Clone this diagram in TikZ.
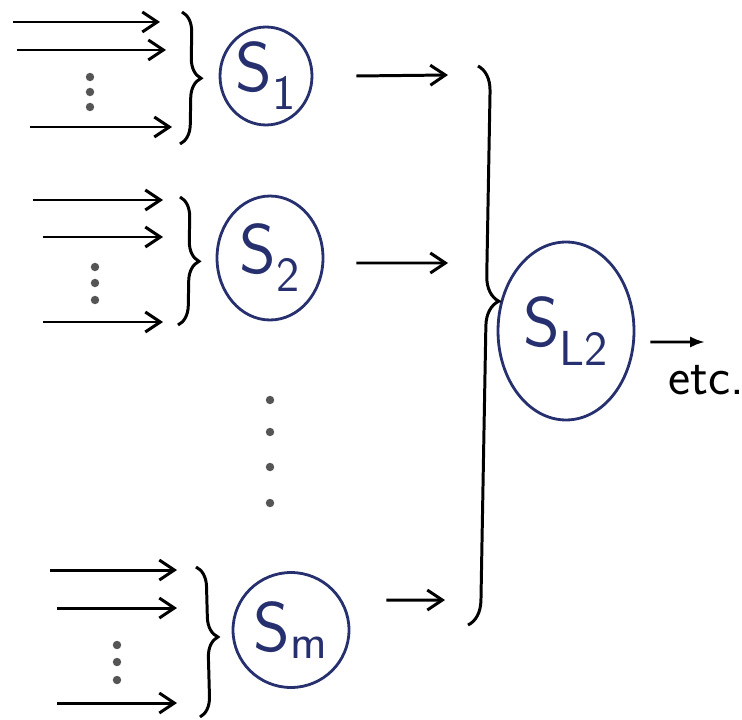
\documentclass[tikz,border=0pt]{standalone}
\usepackage{xcolor}
\usepackage{tikz}
\usetikzlibrary{calc,decorations.pathreplacing,positioning,arrows.meta,shapes.geometric}
\definecolor{figNavy}{HTML}{27306E}
\definecolor{figGray}{HTML}{555555}

\begin{document}
\begin{tikzpicture}[x=0.02cm, y=-0.02cm,
  sys/.style={ellipse, draw=figNavy, line width=1.6pt, text=figNavy, inner sep=0pt,
              font=\sffamily\fontsize{40}{46}\selectfont},
  feed/.style={-{Straight Barb[length=3mm,width=4mm]}, line width=1.7pt},
  grp/.style={decorate, decoration={brace, amplitude=0.4cm}, line width=1.7pt},
]
\useasboundingbox (0,0) rectangle (742,719);

% Subsystems
\node[sys, minimum width=1.84cm, minimum height=1.96cm] (s1) at (266,76) {S\textsubscript{1}};
\node[sys, minimum width=2.12cm, minimum height=2.48cm] (s2) at (270,258) {S\textsubscript{2}};
\node[sys, minimum width=2.32cm, minimum height=2.3cm] (sm) at (291,630) {S\textsubscript{m}};
\node[sys, minimum width=2.72cm, minimum height=3.56cm] (sl2) at (566,331) {S\textsubscript{L2}};
\node[font=\sffamily\fontsize{30}{34}\selectfont] (etc) at (706,380) {etc.};

% Incoming arrows
\foreach \n/\xa/\xb/\y in {1a/13/160/22, 1b/17/166/50, 1c/30/172/127,
                           2a/33/163/200, 2b/43/163/237, 2c/43/163/322,
                           ma/50/177/570, mb/57/177/608, mc/57/177/703} {
  \coordinate (in\n) at (\xa,\y);
  \coordinate (to\n) at (\xb,\y);
  \draw[feed] (in\n) -- (to\n);
}

% Input dots
\foreach \x/\y in {90/77, 90/92, 90/107, 95/267, 95/283, 95/300,
                   117/645, 117/662, 117/680, 270/400, 270/432, 270/467, 270/503}
  \fill[figGray] (\x,\y) circle (2.4pt);

% Braces grouping the inputs
\coordinate (g1top) at (182,12);  \coordinate (g1bot) at (180,144);
\coordinate (g2top) at (180,197); \coordinate (g2bot) at (178,325);
\coordinate (gmtop) at (196,567); \coordinate (gmbot) at (200,717);
\draw[grp] (g1top) -- (g1bot);
\draw[grp] (g2top) -- (g2bot);
\draw[grp, decoration={brace, amplitude=0.4cm, aspect=0.47}] (gmtop) -- (gmbot);

% Outputs into the second level
\coordinate (j1) at (448,75);
\coordinate (j2) at (448,263);
\coordinate (jm) at (445,600);
\draw[feed] ([xshift=0.86cm]s1.east) -- (j1);
\draw[feed] ([xshift=0.64cm,yshift=-0.1cm]s2.east) -- (j2);
\draw[feed] ([xshift=0.72cm,yshift=0.6cm]sm.east) -- (jm);

\coordinate (jtop) at (478,66);
\coordinate (jbot) at (468,625);
\draw[grp, decoration={brace, amplitude=0.5cm, aspect=0.42}] (jtop) -- (jbot);

% Onwards
\coordinate (out) at (705,342);
\draw[-{Latex[length=3mm]}, line width=1.7pt] ([xshift=0.3cm,yshift=-0.22cm]sl2.east) -- (out);

\end{tikzpicture}
\end{document}
